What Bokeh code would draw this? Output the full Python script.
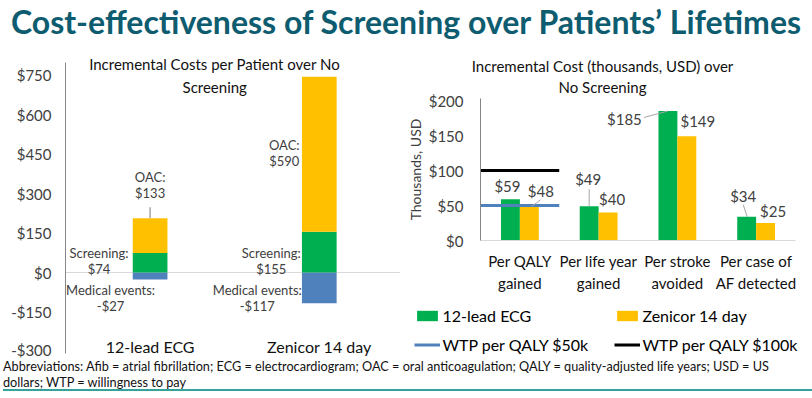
import numpy as np
from bokeh.plotting import figure
from bokeh.models import ColumnDataSource, FixedTicker, Span, Label, Legend, LegendItem, Div
from bokeh.layouts import column, row
from bokeh.embed import file_html
from bokeh.resources import INLINE
from bokeh.core.properties import value

# ---------------- data ----------------
strategies = ["12-lead ECG", "Zenicor 14 day"]
medical_events = [-27, -117]
screening_costs = [74, 155]
oac_costs = [133, 590]
left_ticks = [-300, -150, 0, 150, 300, 450, 600, 750]
left_tick_labels = ["-$300", "-$150", "$0", "$150", "$300", "$450", "$600", "$750"]

outcomes = ["Per QALY\ngained", "Per life year\ngained", "Per stroke\navoided", "Per case of\nAF detected"]
ecg_cost_k = [59, 49, 185, 34]
zenicor_cost_k = [48, 40, 149, 25]
wtp_values_k = [50, 100]
wtp_labels = ["WTP per QALY $50k", "WTP per QALY $100k"]
right_ticks = [0, 50, 100, 150, 200]
right_tick_labels = ["$0", "$50", "$100", "$150", "$200"]

# ---------------- style ----------------
FONT = "Lato"
GREEN, YELLOW, BLUE = "#00B050", "#FFC000", "#4F81BD"
TXT = "#404040"
LEADER = "#A6A6A6"


def money(v):
    return f"${v}" if v >= 0 else f"-${-v}"


ROW_H = 304

# ================= left chart =================
P1_W = 392
Y1U = 0.26267  # px per unit
p1 = figure(width=P1_W, height=ROW_H, x_range=(0, 1.98),
            y_range=(-(ROW_H - 218) / Y1U, 218 / Y1U),
            output_backend="svg", toolbar_location=None, x_axis_location=None,
            min_border_left=53, min_border_right=0, min_border_top=0, min_border_bottom=0)
p1.outline_line_color = None
p1.grid.visible = False
ya = p1.yaxis[0]
ya.ticker = FixedTicker(ticks=left_ticks)
ya.major_label_overrides = {t: l for t, l in zip(left_ticks, left_tick_labels)}
ya.bounds = (-308, 799)
ya.major_tick_line_color = None
ya.minor_tick_line_color = None
ya.major_tick_out = 0
ya.major_tick_in = 0
ya.minor_tick_out = 0
ya.axis_line_color = "#868686"
ya.major_label_standoff = 14
ya.major_label_text_font = FONT
ya.major_label_text_font_size = "15px"
ya.major_label_text_color = TXT

p1.add_layout(Span(location=0, dimension="width", line_color="#D9D9D9", line_width=1, level="underlay"))

x1 = np.arange(len(strategies)) + 0.5
med = np.array(medical_events)
scr = np.array(screening_costs)
oac = np.array(oac_costs)
BW1 = 0.205
src1 = ColumnDataSource(dict(x=x1, med=med, scr=scr, oac_top=scr + oac))
p1.vbar(x="x", bottom=0, top="med", width=BW1, fill_color=BLUE, line_color=None, source=src1)
p1.vbar(x="x", bottom=0, top="scr", width=BW1, fill_color=GREEN, line_color=None, source=src1)
p1.vbar(x="x", bottom="scr", top="oac_top", width=BW1, fill_color=YELLOW, line_color=None, source=src1)

lab = dict(x=[], y=[], t=[], dx=[], dy=[])


def add_label(xv, yv, text, dx, dy):
    lab["x"].append(xv); lab["y"].append(yv); lab["t"].append(text)
    lab["dx"].append(dx); lab["dy"].append(dy)


oac_anchor = [(scr + oac)[0], (scr + oac / 2)[1]]
oac_dx = [0, -35]
oac_dy = [-41, -9]
scr_dx = [-51, -48]
med_dx = [-39.5, -62]
for i in range(len(strategies)):
    add_label(x1[i], oac_anchor[i], "OAC:", oac_dx[i], oac_dy[i])
    add_label(x1[i], oac_anchor[i], money(oac[i]), oac_dx[i], oac_dy[i] + 16)
    add_label(x1[i], 0, "Screening:", scr_dx[i], -20)
    add_label(x1[i], 0, money(scr[i]), scr_dx[i], -4)
    add_label(x1[i], 0, "Medical events:", med_dx[i], 17)
    add_label(x1[i], 0, money(med[i]), med_dx[i], 33)

p1.text(x="x", y="y", text="t", x_offset="dx", y_offset="dy", source=ColumnDataSource(lab),
        text_font=value(FONT), text_font_size="13px", text_color=TXT,
        text_align="center", text_baseline="middle")

# leader for the OAC label of the first bar
top0 = (scr + oac)[0]
p1.segment(x0=[x1[0]], y0=[top0], x1=[x1[0]], y1=[top0 + 11 / Y1U], line_color=LEADER, line_width=1.5)

p1.text(x=x1, y=[left_ticks[0]] * len(strategies), text=strategies, y_offset=-5,
        text_font=value(FONT), text_font_size="16px", text_color="#111111",
        text_align="center", text_baseline="middle")

p1.add_layout(Label(x=0.882, y=795.6, text="Incremental Costs per Patient over No",
                    text_font=FONT, text_font_size="15px", text_color="#111111",
                    text_align="center", text_baseline="middle"))
p1.add_layout(Label(x=0.882, y=708, text="Screening",
                    text_font=FONT, text_font_size="15px", text_color="#111111",
                    text_align="center", text_baseline="middle"))

# ================= right chart =================
P2_W = 404
OX, OY = 80, 186          # origin position inside the canvas (px)
XU, YU = 78.75, 0.7       # px per unit
p2 = figure(width=P2_W, height=ROW_H,
            x_range=(-OX / XU, (P2_W - OX) / XU),
            y_range=(-(ROW_H - OY) / YU, OY / YU),
            output_backend="svg", toolbar_location=None, min_border=0)
p2.outline_line_color = None
p2.grid.visible = False

xa = p2.xaxis[0]
xa.fixed_location = 0
xa.bounds = (0, len(outcomes))
xa.ticker = FixedTicker(ticks=[])
xa.major_tick_line_color = None
xa.minor_tick_line_color = None
xa.axis_line_color = "#D9D9D9"

ya2 = p2.yaxis[0]
ya2.fixed_location = 0
ya2.bounds = (0, 203)
ya2.ticker = FixedTicker(ticks=right_ticks)
ya2.major_label_overrides = {t: l for t, l in zip(right_ticks, right_tick_labels)}
ya2.major_tick_line_color = None
ya2.minor_tick_line_color = None
ya2.major_tick_out = 0
ya2.major_tick_in = 0
ya2.minor_tick_out = 0
ya2.axis_line_color = "#868686"
ya2.major_label_standoff = 17
ya2.major_label_text_font = FONT
ya2.major_label_text_font_size = "15px"
ya2.major_label_text_color = TXT
ya2.axis_label = "Thousands, USD"
ya2.axis_label_text_font = FONT
ya2.axis_label_text_font_size = "14px"
ya2.axis_label_text_font_style = "normal"
ya2.axis_label_text_color = TXT
ya2.axis_label_standoff = 2

x2 = np.arange(len(outcomes)) + 0.5
BW2 = 0.24
ecg = np.array(ecg_cost_k)
zen = np.array(zenicor_cost_k)
r_ecg = p2.vbar(x=x2 - BW2 / 2, top=ecg, bottom=0, width=BW2, fill_color=GREEN, line_color=None)
r_zen = p2.vbar(x=x2 + BW2 / 2, top=zen, bottom=0, width=BW2, fill_color=YELLOW, line_color=None)

wtp_colors = [BLUE, "#000000"]
wtp_renderers = []
for v, c in zip(wtp_values_k, wtp_colors):
    r = p2.line(x=[x2[0] - 0.5, x2[0] + 0.5], y=[v, v], line_color=c, line_width=3)
    wtp_renderers.append(r)

# data labels (pixel offsets relative to each bar's top centre)
ecg_off = [(-3, -13.7), (-1, -27.7), (-43.5, 7.5), (-3.5, -21.2)]
zen_off = [(11.5, -16.4), (4, -14), (11, -15.7), (7.5, -12.5)]
dl = dict(x=[], y=[], t=[], dx=[], dy=[])
for i in range(len(outcomes)):
    for vals, sign, off in ((ecg, -1, ecg_off), (zen, 1, zen_off)):
        dl["x"].append(x2[i] + sign * BW2 / 2)
        dl["y"].append(vals[i])
        dl["t"].append(money(vals[i]))
        dl["dx"].append(off[i][0])
        dl["dy"].append(off[i][1])
p2.text(x="x", y="y", text="t", x_offset="dx", y_offset="dy", source=ColumnDataSource(dl),
        text_font=value(FONT), text_font_size="15px", text_color=TXT,
        text_align="center", text_baseline="middle")

# leader lines (pixel offsets converted to data units)
leaders = [
    (zen, 0, 1, (2, 0), (11, -7)),
    (ecg, 1, -1, (0, -17), (0, 0)),
    (ecg, 2, -1, (-24, 6.5), (0, 0)),
    (ecg, 3, -1, (-3.5, -12), (0.5, 0)),
]
lx0, ly0, lx1, ly1 = [], [], [], []
for vals, i, sign, a, b in leaders:
    xc = x2[i] + sign * BW2 / 2
    lx0.append(xc + a[0] / XU); ly0.append(vals[i] - a[1] / YU)
    lx1.append(xc + b[0] / XU); ly1.append(vals[i] - b[1] / YU)
p2.segment(x0=lx0, y0=ly0, x1=lx1, y1=ly1, line_color=LEADER, line_width=1)

p2.text(x=x2, y=[0] * len(outcomes), text=outcomes, y_offset=31.5,
        text_font=value(FONT), text_font_size="15px", text_color="#111111",
        text_align="center", text_baseline="middle", text_line_height=1.25)

p2.add_layout(Label(x=(602 - 480) / XU, y=250, text="Incremental Cost (thousands, USD) over",
                    text_font=FONT, text_font_size="15px", text_color="#111111",
                    text_align="center", text_baseline="middle"))
p2.add_layout(Label(x=(602 - 480) / XU, y=218.6, text="No Screening",
                    text_font=FONT, text_font_size="15px", text_color="#111111",
                    text_align="center", text_baseline="middle"))

legend_style = dict(padding=0, margin=0, spacing=9, label_standoff=2,
                    glyph_width=26, glyph_height=13, label_height=20,
                    border_line_color=None, background_fill_alpha=0,
                    label_text_font=FONT, label_text_font_size="16px", label_text_color="#000000")
legA = Legend(items=[LegendItem(label=strategies[0], renderers=[r_ecg]),
                     LegendItem(label=wtp_labels[0], renderers=[wtp_renderers[0]])],
              location=(14.4, 4), **legend_style)
legB = Legend(items=[LegendItem(label=strategies[1], renderers=[r_zen]),
                     LegendItem(label=wtp_labels[1], renderers=[wtp_renderers[1]])],
              location=(214.4, 4), **legend_style)
p2.add_layout(legA)
p2.add_layout(legB)

# ================= page =================
title_div = Div(
    text='<div style="font-family:Lato;font-weight:bold;font-size:32px;line-height:28px;'
         'color:#0E5C6F;text-align:center;white-space:nowrap;width:796px;">'
         'Cost-effectiveness of Screening over Patients\u2019 Lifetimes</div>',
    width=796, height=46, margin=(8, 0, 0, 8))
footer_div = Div(
    text='<div style="font-family:Lato;font-size:12.7px;line-height:16px;color:#111111;'
         'margin-left:3px;height:33px;width:809px;border-bottom:2px solid #35A39B;white-space:nowrap;">'
         'Abbreviations: Afib = atrial fibrillation; ECG = electrocardiogram; OAC = oral anticoagulation; '
         'QALY = quality-adjusted life years; USD = US<br>dollars; WTP = willingness to pay</div>',
    width=812, height=35, margin=(0, 0, 0, 0))

charts = row(p1, p2, spacing=0, margin=(0, 0, 0, 8))
layout = column(title_div, charts, footer_div, spacing=0)

with open("out.html", "w") as f:
    f.write(file_html(layout, INLINE))
